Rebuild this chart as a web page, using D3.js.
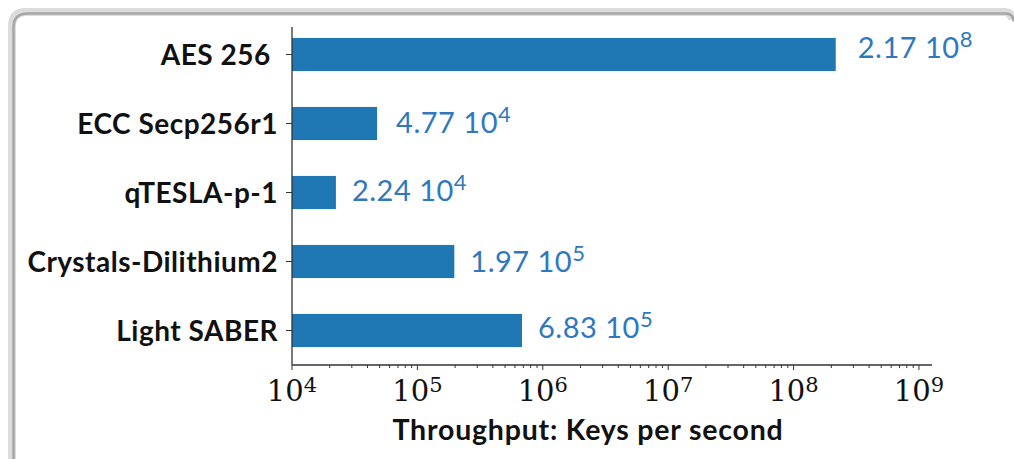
<!DOCTYPE html>
<html>
<head>
<meta charset="utf-8">
<script src="https://cdn.jsdelivr.net/npm/d3@7/dist/d3.min.js"></script>
<style>
  html, body { margin: 0; padding: 0; background: #fff; }
  svg { display: block; }
  .cat { font-family: Lato, "Open Sans", sans-serif; font-weight: 700; font-size: 28px; letter-spacing: 0.5px; fill: #111; white-space: pre; }
  .val { font-family: Lato, "Open Sans", sans-serif; font-size: 29px; letter-spacing: 0.5px; fill: #2f78bd; }
  .tick-label { font-family: "DejaVu Serif", serif; font-size: 29px; fill: #111; }
  .axis-title { font-family: Lato, "Open Sans", sans-serif; font-weight: 700; font-size: 28.5px; letter-spacing: 0.8px; fill: #111; }
</style>
</head>
<body>
<svg id="chart" width="1014" height="459"></svg>
<script>
(function () {
  // data
  const categories = ['AES 256 ', 'ECC Secp256r1', 'qTESLA-p-1', 'Crystals-Dilithium2', 'Light SABER'];
  const mantissas = [2.17, 4.77, 2.24, 1.97, 6.83];
  const exponents = [8, 4, 4, 5, 5];
  const values = mantissas.map((m, i) => m * Math.pow(10, exponents[i]));
  const tickExponents = [4, 5, 6, 7, 8, 9];

  // label nudges [dx, dy] in px, like the original hand-placed text
  const LABEL_OFFSETS = [[22, -7], [19, -1], [16, -2], [16, 0], [16, -3]];

  const svg = d3.select('#chart');

  // frame with shadow on top/left edges
  const framePath = 'M 12 470 L 12 26 Q 12 12 26 12 L 1004 12 Q 1012 12 1012 20';
  svg.append('path').attr('d', framePath).attr('fill', 'none')
    .attr('stroke', '#dcdcdc').attr('stroke-width', 8);
  svg.append('path').attr('d', framePath).attr('fill', 'none')
    .attr('stroke', '#a6a6a6').attr('stroke-width', 2.5)
    .attr('transform', 'translate(1.5,1.5)');

  const x0 = 292, x1 = 932, axisY = 365, axisTop = 27;

  const x = d3.scaleLog()
    .domain([1e4, Math.pow(10, 9.104)])
    .range([x0, x1]);

  const y = d3.scaleBand()
    .domain(categories)
    .range([20, 365])
    .paddingInner(0.52)
    .paddingOuter(0.26);

  // bars
  svg.append('g')
    .selectAll('rect')
    .data(categories)
    .join('rect')
    .attr('x', x0)
    .attr('y', d => y(d))
    .attr('width', (d, i) => x(values[i]) - x0)
    .attr('height', y.bandwidth())
    .attr('fill', '#1f77b4');

  // value labels "m 10^e"
  const vl = svg.append('g')
    .selectAll('text')
    .data(categories)
    .join('text')
    .attr('class', 'val')
    .attr('x', (d, i) => x(values[i]) + LABEL_OFFSETS[i][0])
    .attr('y', (d, i) => y(d) + y.bandwidth() / 2 + LABEL_OFFSETS[i][1])
    .attr('dy', '0.36em');
  vl.append('tspan').text((d, i) => mantissas[i].toFixed(2) + ' 10');
  vl.append('tspan').attr('dy', -11).style('font-size', '22px').text((d, i) => exponents[i]);

  // axes
  const axisColor = '#333';
  svg.append('line')
    .attr('x1', x0).attr('x2', x0).attr('y1', axisTop).attr('y2', axisY)
    .attr('stroke', axisColor).attr('stroke-width', 1.3);
  svg.append('line')
    .attr('x1', x0).attr('x2', x1).attr('y1', axisY).attr('y2', axisY)
    .attr('stroke', axisColor).attr('stroke-width', 1.3);

  // y ticks + category labels
  const yt = svg.append('g');
  yt.selectAll('line')
    .data(categories)
    .join('line')
    .attr('x1', x0 - 6).attr('x2', x0)
    .attr('y1', d => y(d) + y.bandwidth() / 2)
    .attr('y2', d => y(d) + y.bandwidth() / 2)
    .attr('stroke', axisColor).attr('stroke-width', 1);
  yt.selectAll('text')
    .data(categories)
    .join('text')
    .attr('class', 'cat')
    .attr('x', x0 - 14)
    .attr('y', d => y(d) + y.bandwidth() / 2)
    .attr('dy', '0.36em')
    .attr('text-anchor', 'end')
    .text(d => d);

  // x ticks: majors at decades, minors in between
  const allTicks = x.ticks();
  const isMajor = v => Math.abs(Math.log10(v) - Math.round(Math.log10(v))) < 1e-9;
  svg.append('g')
    .selectAll('line')
    .data(allTicks)
    .join('line')
    .attr('x1', d => x(d)).attr('x2', d => x(d))
    .attr('y1', axisY)
    .attr('y2', d => axisY + (isMajor(d) ? 5 : 3))
    .attr('stroke', axisColor).attr('stroke-width', 1);

  const tl = svg.append('g')
    .selectAll('text')
    .data(tickExponents)
    .join('text')
    .attr('class', 'tick-label')
    .attr('x', d => x(Math.pow(10, d)))
    .attr('y', 401)
    .attr('text-anchor', 'middle');
  tl.append('tspan').text('10');
  tl.append('tspan').attr('dy', -9).style('font-size', '21px').text(d => d);

  svg.append('text')
    .attr('class', 'axis-title')
    .attr('x', 588)
    .attr('y', 440)
    .attr('text-anchor', 'middle')
    .text('Throughput: Keys per second');
})();
</script>
</body>
</html>
